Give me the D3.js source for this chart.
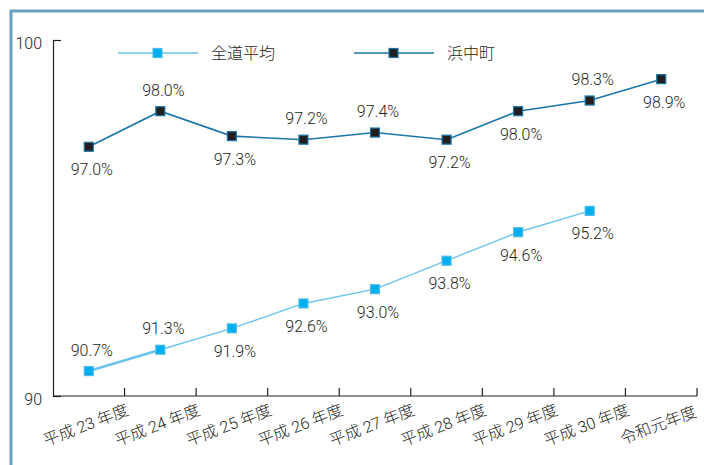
<!DOCTYPE html>
<html>
<head>
<meta charset="utf-8">
<script src="https://cdn.jsdelivr.net/npm/d3@7"></script>
<style>
  body { margin: 0; background: #fff; }
  text { font-family: Roboto, "Noto Sans CJK JP", sans-serif; font-weight: 300; fill: #231f20; }
</style>
</head>
<body>
<div id="chart"></div>
<script>
// categories and values
var years = ["平成 23 年度", "平成 24 年度", "平成 25 年度", "平成 26 年度", "平成 27 年度",
             "平成 28 年度", "平成 29 年度", "平成 30 年度", "令和元年度"];
var zendoValues = [90.7, 91.3, 91.9, 92.6, 93.0, 93.8, 94.6, 95.2];
var hamaValues  = [97.0, 98.0, 97.3, 97.2, 97.4, 97.2, 98.0, 98.3, 98.9];
var yTicks = [90, 100];
var seriesNames = ["全道平均", "浜中町"];

// where each value label goes
var zendoLabelPos = ["above", "above", "below", "below", "below", "below", "below", "below"];
var hamaLabelPos  = ["below", "above", "below", "above", "above", "below", "below", "above", "below"];

var width = 704, height = 465;

var svg = d3.select("#chart").append("svg")
    .attr("width", width)
    .attr("height", height);

// frame
svg.append("rect")
    .attr("x", 11).attr("y", 11)
    .attr("width", 720).attr("height", 480)
    .style("fill", "none")
    .style("stroke", "#6b9fc2")
    .style("stroke-width", 3);

var x = d3.scaleBand()
    .domain(years)
    .range([53, 697])
    .padding(0);

var y = d3.scaleLinear()
    .domain([90, 100])
    .range([396, 40]);

function cx(i) { return x(years[i]) + x.bandwidth() / 2; }

// y axis, ticks pointing inward
var yAxis = svg.append("g")
    .attr("transform", "translate(53,0)")
    .call(d3.axisLeft(y).tickValues(yTicks).tickSizeInner(-8).tickSizeOuter(0).tickPadding(11));
yAxis.select(".domain").style("stroke", "#231f20").style("stroke-width", 1.2);
yAxis.selectAll(".tick line").style("stroke", "#231f20").style("stroke-width", 1.2);
yAxis.selectAll(".tick text")
    .style("font-size", "16px")
    .attr("dy", "0.72em")
    .style("font-family", "Roboto, sans-serif")
    .style("font-weight", 300)
    .style("fill", "#231f20")
    .attr("y", -3);

// x axis line
svg.append("line")
    .attr("x1", 53).attr("x2", 697)
    .attr("y1", y(90)).attr("y2", y(90))
    .style("stroke", "#231f20")
    .style("stroke-width", 1.2);

// tick marks on category boundaries, pointing up
svg.selectAll(".xtick")
    .data(years)
  .enter().append("line")
    .attr("class", "xtick")
    .attr("x1", function(d) { return x(d) + x.bandwidth(); })
    .attr("x2", function(d) { return x(d) + x.bandwidth(); })
    .attr("y1", y(90))
    .attr("y2", y(90) - 8)
    .style("stroke", "#231f20")
    .style("stroke-width", 1.2);

// rotated category labels
svg.selectAll(".xlabel")
    .data(years)
  .enter().append("text")
    .attr("class", "xlabel")
    .attr("transform", function(d) {
      return "translate(" + (x(d) + x.bandwidth() / 2 - 3) + ",425) rotate(-21)";
    })
    .attr("dy", "0.35em")
    .style("text-anchor", "middle")
    .style("font-size", "16px")
    .text(function(d) { return d; });

var line = d3.line()
    .x(function(d, i) { return cx(i); })
    .y(function(d) { return y(d); });

// 全道平均
svg.append("path")
    .datum(zendoValues)
    .attr("d", line)
    .style("fill", "none")
    .style("stroke", "#6cc4ec")
    .style("stroke-width", 1.4);
svg.append("path")
    .datum(zendoValues.slice(0, 2))
    .attr("d", line)
    .style("fill", "none")
    .style("stroke", "#6cc4ec")
    .style("stroke-width", 2.6);

// 浜中町
svg.append("path")
    .datum(hamaValues)
    .attr("d", line)
    .style("fill", "none")
    .style("stroke", "#1b75a8")
    .style("stroke-width", 1.6);

function drawMarkers(values, fill, stroke) {
  svg.append("g").selectAll("rect")
      .data(values)
    .enter().append("rect")
      .attr("x", function(d, i) { return cx(i) - 4.5; })
      .attr("y", function(d) { return y(d) - 4.5; })
      .attr("width", 9)
      .attr("height", 9)
      .style("fill", fill)
      .style("stroke", stroke)
      .style("stroke-width", 1.2);
}
drawMarkers(zendoValues, "#00aeef", "#4fbde9");
drawMarkers(hamaValues, "#231f20", "#1b75a8");

function drawLabels(values, pos) {
  svg.append("g").selectAll("text")
      .data(values)
    .enter().append("text")
      .attr("x", function(d, i) { return cx(i) + 3; })
      .attr("y", function(d, i) { return y(d) + (pos[i] == "above" ? -21 : 23); })
      .attr("dy", "0.35em")
      .style("text-anchor", "middle")
      .style("font-size", "16px")
      .text(function(d) { return d.toFixed(1) + "%"; });
}
drawLabels(zendoValues, zendoLabelPos);
drawLabels(hamaValues, hamaLabelPos);

// legend
var legend = [
  {name: seriesNames[0], x0: 118, line: "#6cc4ec", fill: "#00aeef", stroke: "#4fbde9"},
  {name: seriesNames[1], x0: 354, line: "#1b75a8", fill: "#231f20", stroke: "#1b75a8"}
];
var lg = svg.append("g").selectAll("g")
    .data(legend)
  .enter().append("g")
    .attr("transform", function(d) { return "translate(" + d.x0 + ",53)"; });
lg.append("line")
    .attr("x1", 0).attr("x2", 80)
    .style("stroke", function(d) { return d.line; })
    .style("stroke-width", 1.5);
lg.append("rect")
    .attr("x", 35).attr("y", -4.5)
    .attr("width", 9).attr("height", 9)
    .style("fill", function(d) { return d.fill; })
    .style("stroke", function(d) { return d.stroke; })
    .style("stroke-width", 1.2);
lg.append("text")
    .attr("x", 93)
    .attr("dy", "0.35em")
    .style("font-size", "16px")
    .text(function(d) { return d.name; });
</script>
</body>
</html>
